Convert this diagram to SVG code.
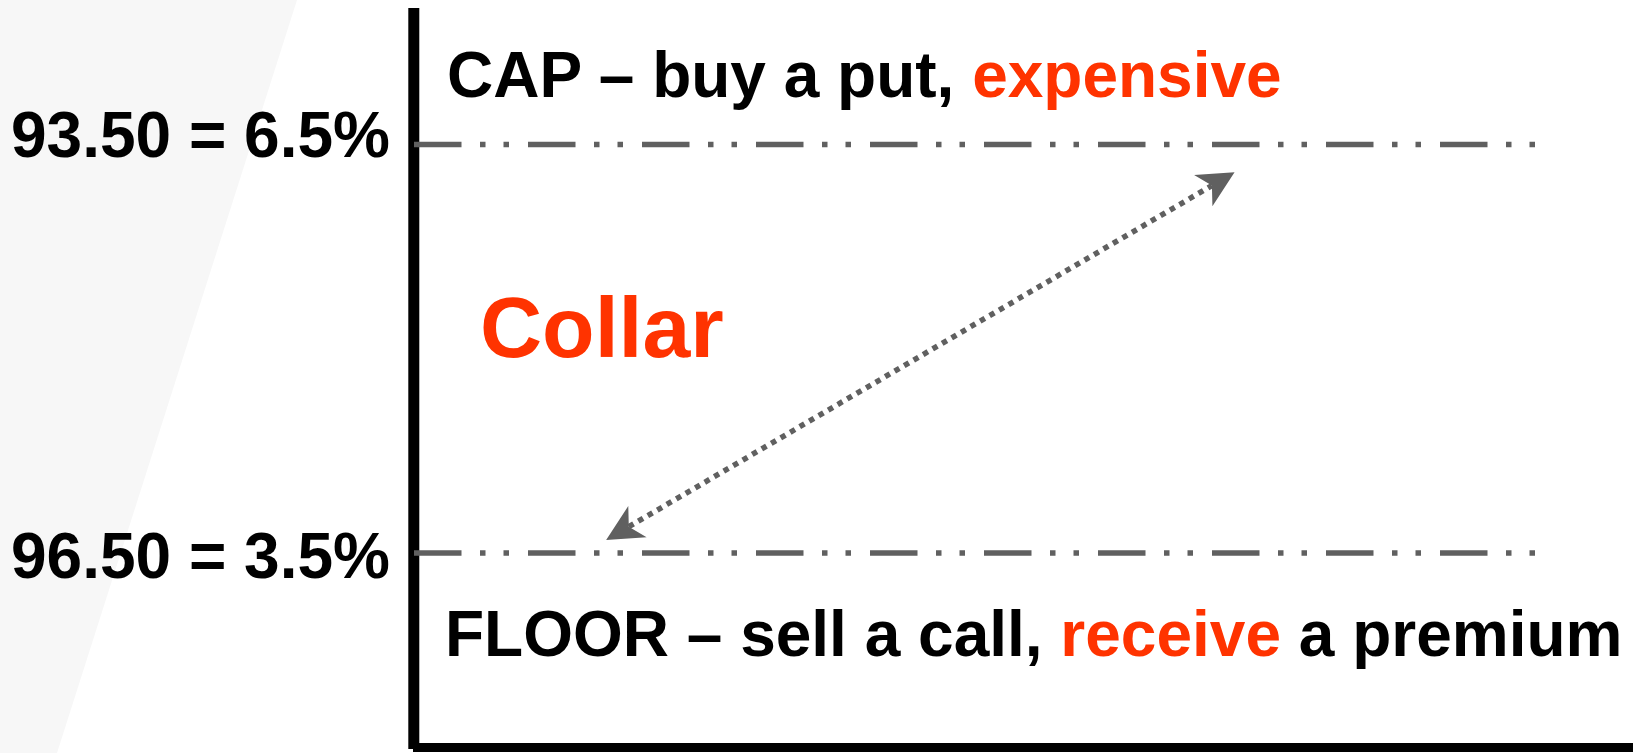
<svg xmlns="http://www.w3.org/2000/svg" width="1633" height="753" viewBox="0 0 1633 753">
  <style>
    .lbl { font-family: "Liberation Sans", Arial, sans-serif; font-weight: bold; font-size: 64px; fill: #000000; }
    .red { fill: #ff3300; }
    .level { fill: none; stroke: #606060; stroke-width: 5.5; stroke-dasharray: 47.5 18.5 5.5 18 5.5 19; }
    .axis { fill: none; stroke: #000000; }
    .conn { fill: none; stroke: #606060; stroke-width: 5.5; stroke-dasharray: 5.5 5.5; }
  </style>
  <defs>
    <marker id="stealth" markerUnits="userSpaceOnUse" markerWidth="40" markerHeight="40" viewBox="-10 -16 32 32" refX="0" refY="0" orient="auto-start-reverse" overflow="visible">
      <path d="M21,0 L-8,-14.5 L0,0 L-8,14.5 Z" fill="#606060"/>
    </marker>
  </defs>

  <g id="background">
    <polygon points="0,0 297,0 57,753 0,753" fill="#f7f7f7"/>
  </g>

  <g id="axes">
    <line class="axis" x1="413.8" y1="8" x2="413.8" y2="749" stroke-width="11"/>
    <line class="axis" x1="413" y1="747.5" x2="1633" y2="747.5" stroke-width="9"/>
  </g>

  <g id="cap-level">
    <line class="level" x1="414" y1="144.5" x2="1535" y2="144.5"/>
    <text class="lbl" x="11" y="157">93.50 = 6.5%</text>
  </g>

  <g id="floor-level">
    <line class="level" x1="414" y1="553" x2="1535" y2="553"/>
    <text class="lbl" x="11" y="578">96.50 = 3.5%</text>
  </g>

  <g id="cap-label">
    <text class="lbl" x="447" y="97">CAP – buy a put, <tspan class="red">expensive</tspan></text>
  </g>

  <g id="floor-label">
    <text class="lbl" x="445" y="656">FLOOR – sell a call, <tspan class="red">receive</tspan> a premium</text>
  </g>

  <g id="collar-label">
    <text class="lbl red" x="480" y="357" font-size="86" style="font-size:86px">Collar</text>
  </g>

  <g id="connectors">
    <line class="conn" x1="628.8" y1="526.7" x2="1211.9" y2="185.6" marker-start="url(#stealth)" marker-end="url(#stealth)"/>
  </g>
</svg>
